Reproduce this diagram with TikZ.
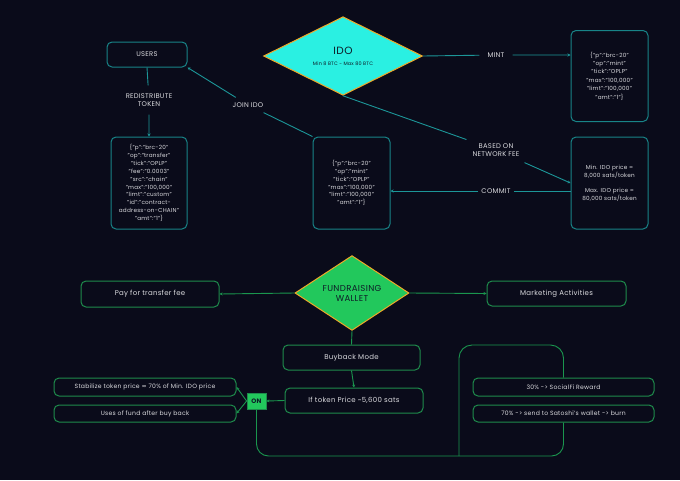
\documentclass[tikz,border=0pt]{standalone}
\usepackage{fontspec}
\setmainfont{Poppins}[LetterSpace=4]
\newfontfamily\symfont{DejaVu Sans}
\usepackage{tikz}
\usetikzlibrary{shapes.geometric, arrows.meta}

\definecolor{bgnavy}{RGB}{10,11,26}
\definecolor{lineteal}{RGB}{28,150,152}
\definecolor{boxteal}{RGB}{24,132,136}
\definecolor{idocyan}{RGB}{42,240,226}
\definecolor{rimorange}{RGB}{238,168,40}
\definecolor{fundgreen}{RGB}{34,200,92}
\definecolor{linegreen}{RGB}{26,150,78}
\definecolor{boxgreen}{RGB}{30,140,76}
\definecolor{txtgray}{RGB}{218,218,222}
\definecolor{darkink}{RGB}{14,28,40}

\begin{document}
\begin{tikzpicture}[x=1pt, y=-1pt,
  tealbox/.style={draw=boxteal, line width=1pt, rounded corners=5pt, text=txtgray, align=center, inner sep=1pt, font=\fontsize{5.7}{7.9}\selectfont},
  tealline/.style={draw=lineteal, line width=0.9pt},
  lbl/.style={text=txtgray, align=center, inner sep=3pt, font=\fontsize{6.8}{8}\selectfont},
  greenbox/.style={draw=boxgreen, line width=1pt, rounded corners=5pt, text=txtgray, inner sep=1pt, font=\fontsize{7}{8}\selectfont},
  smallgreen/.style={greenbox, font=\fontsize{6.1}{7}\selectfont},
  greenline/.style={draw=linegreen, line width=0.9pt},
  tip/.style={-{Stealth[length=3pt, width=3pt]}}
]
  % Canvas
  \fill[bgnavy] (0,0) rectangle (680,480);
  \useasboundingbox (0,0) rectangle (680,480);

  % IDO part
  \node[shape=diamond, draw=rimorange, line width=1pt, fill=idocyan, inner sep=0pt,
        minimum width=159pt, minimum height=52pt, text=darkink, align=center] (ido) at (343,56)
        {{\fontsize{10.5}{11}\selectfont IDO}\\[-1pt]{\fontsize{4.9}{6}\selectfont Min 8 BTC - Max 80 BTC}};
  \node[tealbox, minimum width=80pt, minimum height=25pt, font=\fontsize{6.8}{8}\selectfont] (users) at (147,54.5) {USERS};
  \node[tealbox, minimum width=76pt, minimum height=92pt] (transfer) at (149,183)
        {\{"p":"brc-20"\\"op":"transfer"\\"tick":"OPLP"\\"fee":"0.0003"\\"src":"chain"\\"max":"100,000"\\"limt":"custom"\\"id":"contract-\\address-on-CHAIN"\\"amt":"1"\}};
  \node[tealbox, minimum width=77pt, minimum height=92pt] (midbox) at (351.5,183)
        {\{"p":"brc-20"\\"op":"mint"\\"tick":"OPLP"\\"max":"100,000"\\"limt":"100,000"\\"amt":"1"\}};
  \node[tealbox, minimum width=77pt, minimum height=91pt, font=\fontsize{5.7}{8.4}\selectfont] (mintbox) at (609.5,76)
        {\{"p":"brc-20"\\"op":"mint"\\"tick":"OPLP"\\"max":"100,000"\\"limt":"100,000"\\"amt":"1"\}};
  \node[tealbox, minimum width=77pt, minimum height=92pt] (pricebox) at (609.5,183)
        {Min. IDO price =\\8,000 sats/token\\[7pt]Max. IDO price =\\80,000 sats/token};

  % Labels on the teal lines
  \node[lbl, inner xsep=8pt] (mintlbl) at (496,55) {MINT};
  \node[lbl, inner sep=5pt] (joinlbl) at (248,105) {JOIN IDO};
  \node[lbl, inner ysep=8pt] (redistlbl) at (149,100) {REDISTRIBUTE\\TOKEN};
  \node[lbl, inner sep=6pt] (feelbl) at (496,150) {BASED ON\\NETWORK FEE};
  \node[lbl, inner xsep=3pt] (commitlbl) at (496,191) {COMMIT};

  % Teal connectors
  \draw[tealline, tip] (ido.east) -- (mintlbl) -- (mintbox.west |- mintlbl);
  \draw[tealline, tip] (midbox.north west) -- (joinlbl) -- (users.south east);
  \draw[tealline, tip] (users.south) -- (redistlbl) -- (transfer.north);
  \draw[tealline, tip] (ido.south) -- (feelbl) -- (pricebox.west);
  \draw[tealline, tip] (pricebox.west |- commitlbl) -- (commitlbl) -- (midbox.east |- commitlbl);

  % Fundraising part
  \node[shape=diamond, draw=rimorange, line width=1pt, fill=fundgreen, inner sep=0pt,
        minimum width=114pt, minimum height=52pt, text=darkink, align=center,
        font=\fontsize{8.6}{10}\selectfont] (fund) at (352,293) {FUNDRAISING\\WALLET};
  \node[greenbox, minimum width=138pt, minimum height=26pt] (payfee) at (150,294) {Pay for transfer fee};
  \node[greenbox, minimum width=139pt, minimum height=25pt] (market) at (556.5,293.5) {Marketing Activities};
  \node[greenbox, minimum width=137pt, minimum height=25pt] (buyback) at (351.5,357.5) {Buyback Mode};
  \node[greenbox, minimum width=138pt, minimum height=25pt] (iftoken) at (354,400.5) {If token Price \textasciitilde5,600 sats};
  \node[draw=boxgreen, fill=fundgreen, line width=0.8pt, minimum width=19pt, minimum height=16pt,
        inner sep=0pt, text=darkink, font=\fontsize{6.4}{7}\selectfont\bfseries] (onbox) at (256.5,401) {ON};
  \node[smallgreen, minimum width=182pt, minimum height=18pt] (stab) at (145,387)
        {Stabilize token price {\symfont\char"2248} 70\% of Min. IDO price};
  \node[smallgreen, minimum width=182pt, minimum height=17pt] (usesbox) at (145,413.5) {Uses of fund after buy back};
  \node[smallgreen, minimum width=181pt, minimum height=18pt] (r30) at (563.5,387) {30\% -> SocialFi Reward};
  \node[smallgreen, minimum width=181pt, minimum height=17pt] (r70) at (563.5,413.5) {70\% -> send to Satoshi's wallet -> burn};

  % Green connectors
  \draw[greenline, tip] (fund.west) -- (payfee.east);
  \draw[greenline, tip] (fund.east) -- (market.west);
  \draw[greenline] (fund.south) -- (buyback.north);
  \draw[greenline, tip] (buyback.south) -- (iftoken.north);
  \draw[greenline, tip] (iftoken.west) -- (onbox.east);
  \draw[greenline, tip] (onbox.west) -- (stab.east);
  \draw[greenline, tip] (onbox.west) -- (usesbox.east);

  % Loop to the burn / reward split
  \coordinate (loopbr) at (563.5,456);
  \coordinate (split) at (459,456);
  \coordinate (looptop) at (563.5,345);
  \draw[greenline, rounded corners=12pt] (onbox.south) |- (loopbr) -- (r70.south);
  \draw[greenline, rounded corners=13pt] (split) |- (looptop) -- (r30.north);
\end{tikzpicture}
\end{document}
